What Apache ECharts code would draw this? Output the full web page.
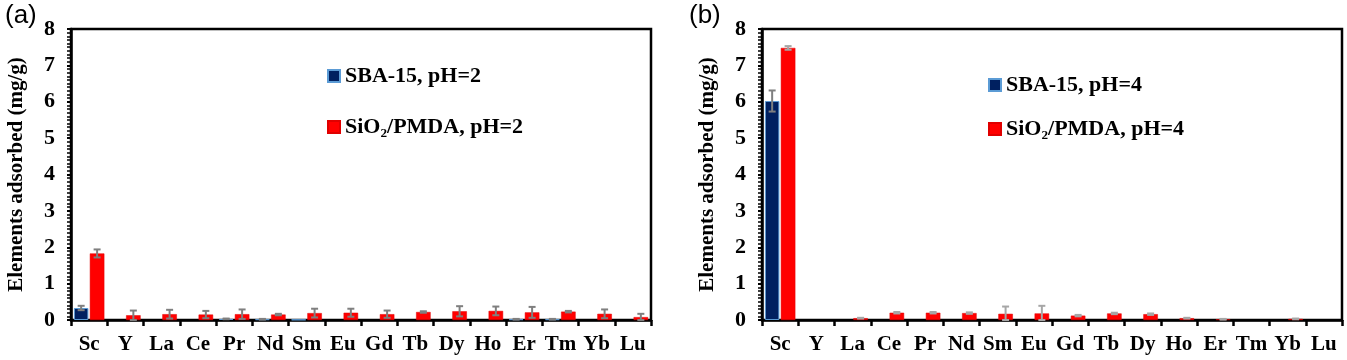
<!DOCTYPE html>
<html>
<head>
<meta charset="utf-8">
<script src="https://cdn.jsdelivr.net/npm/echarts@6/dist/echarts.min.js"></script>
<style>html,body{margin:0;padding:0;background:#fff}#c{width:1347px;height:360px}</style>
</head>
<body>
<div id="c"></div>
<script>
const categories = ['Sc','Y','La','Ce','Pr','Nd','Sm','Eu','Gd','Tb','Dy','Ho','Er','Tm','Yb','Lu'];
const yTicks = [0,1,2,3,4,5,6,7,8];
// panel (a) pH=2
const sbaPH2     = [0.33,0,0,0,0.03,0.02,0.01,0,0,0,0,0,0.02,0.02,0,0];
const sbaPH2Err  = [0.06,0,0,0,0.01,0.01,0,0,0,0,0,0,0.01,0.01,0,0];
const pmdaPH2    = [1.83,0.13,0.16,0.15,0.16,0.15,0.19,0.20,0.16,0.22,0.24,0.25,0.21,0.23,0.17,0.08];
const pmdaPH2Err = [0.11,0.13,0.12,0.10,0.13,0.02,0.12,0.11,0.10,0.02,0.14,0.12,0.15,0.02,0.12,0.09];
// panel (b) pH=4
const sbaPH4     = [6.02,0,0,0,0,0,0,0,0,0,0,0,0,0,0,0];
const sbaPH4Err  = [0.29,0,0,0,0,0,0,0,0,0,0,0,0,0,0,0];
const pmdaPH4    = [7.48,0,0.05,0.20,0.20,0.19,0.17,0.18,0.12,0.18,0.16,0.05,0.02,0,0.03,0];
const pmdaPH4Err = [0.05,0,0.01,0.02,0.02,0.02,0.20,0.21,0.02,0.02,0.02,0.01,0.01,0,0.01,0];

const serif = 'Liberation Serif, "Times New Roman", serif';
const CAT_GAP = 0.16, BAR_GAP = 0.1;

function errSeries(name, xi, yi, vals, errs, side, color){
  return {
    type:'custom', xAxisIndex:xi, yAxisIndex:yi, z:10, silent:true,
    data: vals.map((v,i)=>[i, v, errs[i]]),
    encode:{x:0,y:1},
    renderItem:function(params, api){
      const idx = api.value(0), v = api.value(1), e = api.value(2);
      if (!(e>0)) return null;
      const band = api.size([1,0])[0];
      const bw = band*(1-CAT_GAP)/(2+BAR_GAP);
      const off = side*(bw/2 + bw*BAR_GAP/2);
      const top = api.coord([idx, v+e]);
      const bot = api.coord([idx, Math.max(0,v-e)]);
      const x = top[0] + off;
      const cap = 3.5;
      const st = {stroke:color, lineWidth:2};
      return {type:'group', children:[
        {type:'line', shape:{x1:x,y1:top[1],x2:x,y2:bot[1]}, style:st},
        {type:'line', shape:{x1:x-cap,y1:top[1],x2:x+cap,y2:top[1]}, style:st},
        {type:'line', shape:{x1:x-cap,y1:bot[1],x2:x+cap,y2:bot[1]}, style:st}
      ]};
    }
  };
}
function xAxis(gi){
  return {
    type:'category', gridIndex:gi, data:categories,
    axisLine:{lineStyle:{color:'#000', width:2.5}},
    axisTick:{show:true, inside:false, length:6, alignWithLabel:false, interval:0, lineStyle:{color:'#000', width:2.5}},
    axisLabel:{fontFamily:serif, fontWeight:'bold', fontSize:21, color:'#000', margin:14, interval:0},
    splitLine:{show:false}
  };
}
function yAxis(gi){
  return {
    type:'value', gridIndex:gi, min:0, max:8, interval:1,
    name:'Elements adsorbed (mg/g)', nameLocation:'middle', nameGap:44, nameMoveOverlap:false,
    nameTextStyle:{fontFamily:serif, fontWeight:'bold', fontSize:21, color:'#000'},
    axisLine:{show:true, lineStyle:{color:'#000', width:2.5}},
    axisTick:{show:true, inside:false, length:4, lineStyle:{color:'#000', width:2}},
    minorTick:{show:true, splitNumber:10, length:4, lineStyle:{color:'#000', width:1.5}},
    axisLabel:{fontFamily:serif, fontWeight:'bold', fontSize:22, color:'#000', margin:16,
      formatter:function(v){ return yTicks.indexOf(v)>=0 ? String(v) : ''; }},
    splitLine:{show:false}
  };
}
const blueStyle = {color:'#002060', borderColor:'#5B9BD5', borderWidth:1};
const redStyle = {color:'#FF0000', borderColor:'#E00000', borderWidth:0.5};
function bar(name, xi, yi, vals, style){
  return {type:'bar', name:name, xAxisIndex:xi, yAxisIndex:yi,
    data:vals.map(v => v > 0 ? v : null),
    barCategoryGap:(CAT_GAP*100)+'%', barGap:(BAR_GAP*100)+'%', itemStyle:style};
}
const legendText = {fontFamily:serif, fontWeight:'bold', fontSize:22, color:'#000'};
const titleStyle = {fontFamily:'Liberation Sans, Arial, sans-serif', fontWeight:'normal', fontSize:26, color:'#000'};
const gridBase = {top:29, bottom:40, show:true, borderColor:'#000', borderWidth:2.5,
  backgroundColor:'transparent', outerBoundsMode:'none', containLabel:false};
const option = {
  animation:false,
  backgroundColor:'#fff',
  title:[
    {text:'(a)', left:0, top:-2, textStyle:titleStyle},
    {text:'(b)', left:684, top:-2, textStyle:titleStyle}
  ],
  legend:[
    {data:['SBA-15, pH=2','SiO₂/PMDA, pH=2'], orient:'vertical', left:322, top:60, itemGap:29,
      icon:'rect', itemWidth:12, itemHeight:12, textStyle:legendText, selectedMode:false},
    {data:['SBA-15, pH=4','SiO₂/PMDA, pH=4'], orient:'vertical', left:983, top:69, itemGap:22,
      icon:'rect', itemWidth:12, itemHeight:12, textStyle:legendText, selectedMode:false}
  ],
  grid:[
    Object.assign({left:71, right:696}, gridBase),
    Object.assign({left:762, right:5}, gridBase)
  ],
  xAxis:[xAxis(0), xAxis(1)],
  yAxis:[yAxis(0), yAxis(1)],
  series:[
    bar('SBA-15, pH=2',0,0,sbaPH2,blueStyle),
    bar('SiO₂/PMDA, pH=2',0,0,pmdaPH2,redStyle),
    bar('SBA-15, pH=4',1,1,sbaPH4,blueStyle),
    bar('SiO₂/PMDA, pH=4',1,1,pmdaPH4,redStyle),
    errSeries('e1',0,0,sbaPH2,sbaPH2Err,-1,'#7F7F7F'),
    errSeries('e2',0,0,pmdaPH2,pmdaPH2Err,1,'#7F7F7F'),
    errSeries('e3',1,1,sbaPH4,sbaPH4Err,-1,'#7F7F7F'),
    errSeries('e4',1,1,pmdaPH4,pmdaPH4Err,1,'#A6A6A6')
  ]
};
const chart = echarts.init(document.getElementById('c'), null, {renderer:'canvas'});
chart.setOption(option);
</script>
</body>
</html>
